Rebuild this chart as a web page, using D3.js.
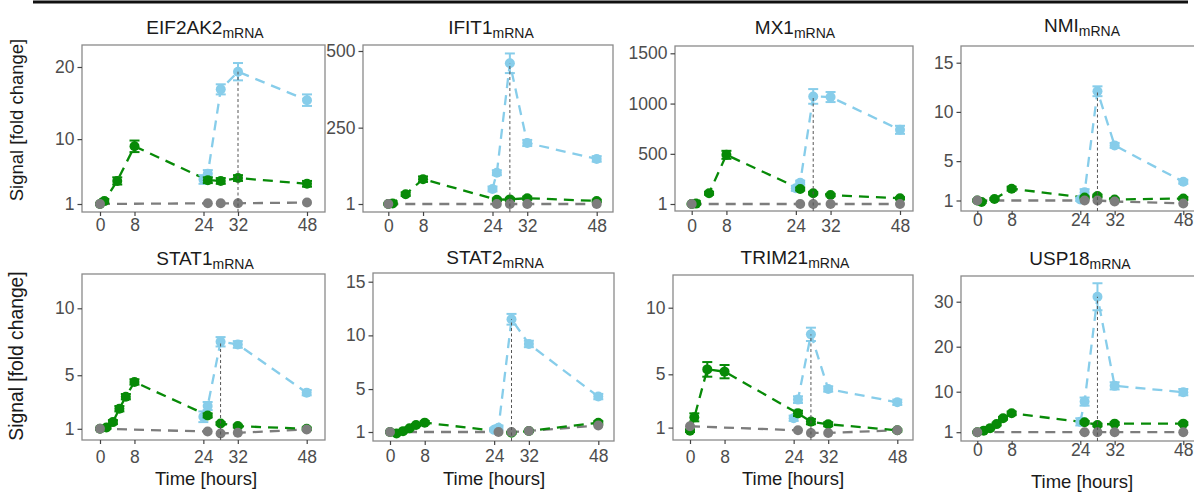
<!DOCTYPE html>
<html>
<head>
<meta charset="utf-8">
<script src="https://cdn.jsdelivr.net/npm/d3@7"></script>
<style>
  html, body { margin: 0; padding: 0; background: #fff; }
  svg { display: block; font-family: "Liberation Sans", Arial, sans-serif; }
</style>
</head>
<body>
<svg id="chart" width="1194" height="493"></svg>
<script>
// Time course of interferon-stimulated transcripts, fold change vs. 0 h.
// Each series row: [hour, fold change, error half-width]
const hourTicks = [0, 8, 24, 32, 48];
const genes = ["EIF2AK2", "IFIT1", "MX1", "NMI", "STAT1", "STAT2", "TRIM21", "USP18"];

const eif2ak2Ticks = [1, 10, 20];
const eif2ak2Green = [[0,1,0.1],[1,1.4,0.3],[4,4.2,0.5],[8,9.0,0.8],[25,4.3,0.4],[28,4.2,0.4],[32,4.6,0.4],[48,3.8,0.4]];
const eif2ak2Blue  = [[24,4.4,0.6],[25,5.2,0.5],[28,16.9,0.7],[32,19.35,1.2],[48,15.4,0.8]];
const eif2ak2Gray  = [[0,1,0],[25,1.1,0],[28,1.1,0],[32,1.1,0],[48,1.2,0]];

const ifit1Ticks = [1, 250, 500];
const ifit1Green = [[0,1,2],[1,3,3],[4,33,6],[8,82,9],[25,15,4],[28,16,5],[32,20,5],[48,11,4]];
const ifit1Blue  = [[24,50,8],[25,103,8],[28,460,32],[32,200,10],[48,148,9]];
const ifit1Gray  = [[0,1,0],[25,1,0],[28,1,0],[32,1,0],[48,1,0]];

const mx1Ticks = [1, 500, 1000, 1500];
const mx1Green = [[0,1,8],[1,5,10],[4,108,15],[8,490,40],[25,150,15],[28,108,12],[32,90,12],[48,58,10]];
const mx1Blue  = [[24,157,25],[25,213,20],[28,1071,73],[32,1065,50],[48,739,40]];
const mx1Gray  = [[0,1,0],[25,1,0],[28,1,0],[32,1,0],[48,1,0]];

const nmiTicks = [1, 5, 10, 15];
const nmiGreen = [[0,1,0.1],[1,0.85,0.1],[4,1.15,0.1],[8,2.2,0.2],[25,1.3,0.1],[28,1.45,0.15],[32,1.1,0.1],[48,1.2,0.15]];
const nmiBlue  = [[24,1.1,0.15],[25,1.85,0.3],[28,12.1,0.5],[32,6.6,0.25],[48,2.9,0.2]];
const nmiGray  = [[0,1,0],[25,1,0],[28,1,0],[32,0.9,0],[48,0.7,0]];

const stat1Ticks = [1, 5, 10];
const stat1Green = [[0,1,0.05],[1.5,1.1,0.1],[3,1.5,0.15],[4.5,2.5,0.2],[6,3.4,0.2],[8,4.5,0.2],[25,2.0,0.15],[28,1.4,0.1],[32,1.2,0.1],[48,1.0,0.1]];
const stat1Blue  = [[24,1.9,0.4],[25,2.7,0.3],[28,7.5,0.35],[32,7.3,0.25],[48,3.7,0.2]];
const stat1Gray  = [[0,1,0],[25,0.8,0],[28,0.65,0],[32,0.7,0],[48,0.95,0]];

const stat2Ticks = [1, 5, 10, 15];
const stat2Green = [[0,1,0.05],[1.5,0.87,0.1],[3,1.08,0.1],[4.5,1.34,0.1],[6,1.65,0.1],[8,1.87,0.15],[28,0.93,0.1],[32,1.1,0.1],[48,1.86,0.15]];
const stat2Blue  = [[24,1.2,0.15],[25,1.4,0.2],[28,11.5,0.5],[32,9.2,0.3],[48,4.3,0.25]];
const stat2Gray  = [[0,1,0],[25,1,0],[28,1,0],[32,1.1,0],[48,1.6,0]];

const trim21Ticks = [1, 5, 10];
const trim21Green = [[0,0.77,0.1],[1,1.77,0.3],[4,5.37,0.55],[8,5.2,0.5],[25,2.07,0.2],[28,1.45,0.2],[32,1.25,0.15],[48,0.8,0.1]];
const trim21Blue  = [[24,1.7,0.2],[25,3.1,0.25],[28,8.0,0.5],[32,3.9,0.2],[48,2.9,0.2]];
const trim21Gray  = [[0,1.1,0],[25,0.8,0],[28,0.6,0],[32,0.6,0],[48,0.8,0]];

const usp18Ticks = [1, 10, 20, 30];
const usp18Green = [[0,1,0.1],[1.5,1.35,0.2],[3,1.9,0.2],[4.5,2.8,0.3],[6,4.1,0.3],[8,5.2,0.4],[25,3.2,0.3],[28,2.6,0.3],[32,2.9,0.3],[48,2.9,0.3]];
const usp18Blue  = [[24,3.3,0.8],[25,7.8,0.9],[28,31.1,3.0],[32,11.3,0.8],[48,9.9,0.7]];
const usp18Gray  = [[0,1,0],[25,1,0],[28,1,0],[32,1,0],[48,1,0]];

const seriesByGene = {
  EIF2AK2: { ticks: eif2ak2Ticks, green: eif2ak2Green, blue: eif2ak2Blue, gray: eif2ak2Gray },
  IFIT1:   { ticks: ifit1Ticks,   green: ifit1Green,   blue: ifit1Blue,   gray: ifit1Gray },
  MX1:     { ticks: mx1Ticks,     green: mx1Green,     blue: mx1Blue,     gray: mx1Gray },
  NMI:     { ticks: nmiTicks,     green: nmiGreen,     blue: nmiBlue,     gray: nmiGray },
  STAT1:   { ticks: stat1Ticks,   green: stat1Green,   blue: stat1Blue,   gray: stat1Gray },
  STAT2:   { ticks: stat2Ticks,   green: stat2Green,   blue: stat2Blue,   gray: stat2Gray },
  TRIM21:  { ticks: trim21Ticks,  green: trim21Green,  blue: trim21Blue,  gray: trim21Gray },
  USP18:   { ticks: usp18Ticks,   green: usp18Green,   blue: usp18Blue,   gray: usp18Gray }
};

// Panel geometry: frame box [l,t,r,b], pixel of hour 0/48, pixel of y=1 / top tick,
// title centre, tick label centre line, optional axis titles.
const frames = [
  { box:[82,45,325,212],   x:[100,307],      y:[204,67],     title:[205,27],  tickY:225, ylab:[120,18.5] },
  { box:[363,45,613,212],  x:[388.3,596.7],  y:[204,51],     title:[491,27],  tickY:226 },
  { box:[675,46,913,211],  x:[691.7,900],    y:[204,53.3],   title:[795,27],  tickY:226 },
  { box:[961,46,1205,211], x:[977.3,1183.3], y:[200.5,62.7], title:[1082,25], tickY:220 },
  { box:[82,274,325,440],  x:[100,306.7],    y:[428.8,308.3],title:[205,258], tickY:457, ylab:[356,19.3], xlab:[206,478] },
  { box:[373,273,614,441], x:[390,598.3],    y:[432,281.7],  title:[495,257], tickY:456, xlab:[494,478] },
  { box:[673,275,913,440], x:[690,897.3],    y:[427.6,307.7],title:[795,257], tickY:457, xlab:[793,478] },
  { box:[961,276,1205,441],x:[977.3,1183.3], y:[432.2,301.7],title:[1080,258],tickY:450, xlab:[1082,481.5] }
];

const colors = { green: "#078a07", blue: "#87cdea", gray: "#7d7d7d" };
const svg = d3.select("#chart");

// rule across the top
svg.append("line").attr("x1", 33).attr("x2", 1188).attr("y1", 2).attr("y2", 2)
  .attr("stroke", "#111").attr("stroke-width", 3);

genes.forEach((gene, i) => {
  const f = frames[i];
  const d = seriesByGene[gene];
  const top = d.ticks[d.ticks.length - 1];
  const x = d3.scaleLinear().domain([0, 48]).range(f.x);
  const y = d3.scaleLinear().domain([1, top]).range(f.y);
  const g = svg.append("g");

  // frame
  g.append("rect").attr("x", f.box[0]).attr("y", f.box[1])
    .attr("width", f.box[2] - f.box[0]).attr("height", f.box[3] - f.box[1])
    .attr("fill", "none").attr("stroke", "#8a8a8a").attr("stroke-width", 1.3);

  // y axis
  const yAxis = g.append("g").attr("transform", `translate(${f.box[0]},0)`)
    .call(d3.axisLeft(y).tickValues(d.ticks).tickSize(4.5).tickPadding(3).tickFormat(d3.format("d")));
  yAxis.select(".domain").remove();
  yAxis.selectAll(".tick line").attr("stroke", "#444").attr("stroke-width", 1.2);
  yAxis.selectAll(".tick text").attr("fill", "#4d4d4d").style("font-size", "17.5px");

  // x axis
  const xAxis = g.append("g").attr("transform", `translate(0,${f.box[3]})`)
    .call(d3.axisBottom(x).tickValues(hourTicks).tickSize(4).tickPadding(0).tickFormat(d3.format("d")));
  xAxis.select(".domain").remove();
  xAxis.selectAll(".tick line").attr("stroke", "#444").attr("stroke-width", 1.2);
  xAxis.selectAll(".tick text").attr("fill", "#4d4d4d").style("font-size", "17.5px")
    .attr("dy", null).attr("y", f.tickY - f.box[3]).attr("dominant-baseline", "central");

  // title with subscript
  const t = g.append("text").attr("x", f.title[0]).attr("y", f.title[1] + 6.5)
    .attr("text-anchor", "middle").attr("fill", "#1a1a1a").style("font-size", "19px");
  t.append("tspan").text(gene);
  t.append("tspan").text("mRNA").attr("dy", 4).style("font-size", "14px");

  if (f.xlab) {
    g.append("text").attr("x", f.xlab[0]).attr("y", f.xlab[1] + 6.5).attr("text-anchor", "middle")
      .attr("fill", "#1a1a1a").style("font-size", "18.5px").text("Time [hours]");
  }
  if (f.ylab) {
    g.append("text").attr("transform", `translate(23,${f.ylab[0]}) rotate(-90)`)
      .attr("text-anchor", "middle").attr("fill", "#1a1a1a").style("font-size", f.ylab[1] + "px")
      .text("Signal [fold change]");
  }

  const line = d3.line().x(p => x(p[0])).y(p => y(p[1]));

  ["gray", "green", "blue"].forEach(key => {
    g.append("path").datum(d[key]).attr("d", line).attr("fill", "none")
      .attr("stroke", colors[key]).attr("stroke-width", 2.3).attr("stroke-dasharray", "10,7");
  });

  ["blue", "green", "gray"].forEach(key => {
    const pts = g.append("g");
    const withErr = d[key].filter(p => p[2] > 0);
    pts.selectAll("line.bar").data(withErr).join("line").attr("class", "bar")
      .attr("x1", p => x(p[0])).attr("x2", p => x(p[0]))
      .attr("y1", p => y(p[1] - p[2])).attr("y2", p => y(p[1] + p[2]))
      .attr("stroke", colors[key]).attr("stroke-width", 2);
    ["lo", "hi"].forEach(side => {
      const yv = p => y(side === "lo" ? p[1] - p[2] : p[1] + p[2]);
      pts.selectAll("line.cap" + side).data(withErr).join("line").attr("class", "cap" + side)
        .attr("x1", p => x(p[0]) - 5).attr("x2", p => x(p[0]) + 5)
        .attr("y1", yv).attr("y2", yv)
        .attr("stroke", colors[key]).attr("stroke-width", 2);
    });
    pts.selectAll("circle").data(d[key]).join("circle")
      .attr("cx", p => x(p[0])).attr("cy", p => y(p[1])).attr("r", 5)
      .attr("fill", colors[key]);
  });

  // marker at the stimulated peak
  const peak = d3.greatest(d.blue, p => p[1]);
  g.append("line").attr("x1", x(peak[0])).attr("x2", x(peak[0]))
    .attr("y1", f.box[3]).attr("y2", y(peak[1]))
    .attr("stroke", "#555").attr("stroke-width", 1).attr("stroke-dasharray", "3,2.5");
});
</script>
</body>
</html>
